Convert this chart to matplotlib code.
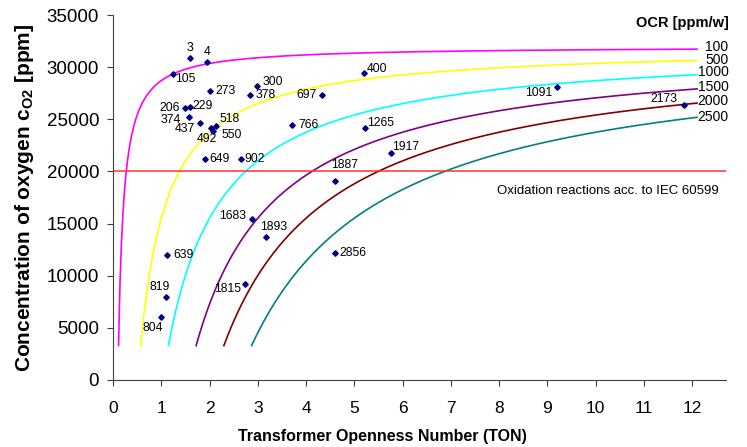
import numpy as np
from matplotlib import pyplot as plt

plt.rcParams['font.family'] = ['Liberation Sans', 'DejaVu Sans']
plt.rcParams['mathtext.fontset'] = 'custom'
plt.rcParams['mathtext.rm'] = 'Liberation Sans'

# measured transformers: label, TON, c_O2
labels = ['3', '4', '105', '273', '300', '378', '206', '229', '374', '437',
          '518', '492', '550', '649', '902', '766', '697', '400', '1265', '1917',
          '1887', '1683', '1893', '2856', '1815', '639', '819', '804', '1091', '2173']
ton = [1.60, 1.95, 1.24, 2.00, 2.99, 2.83, 1.50, 1.59, 1.57, 1.81,
       2.14, 2.04, 2.08, 1.91, 2.65, 3.71, 4.34, 5.20, 5.22, 5.75,
       4.59, 2.89, 3.18, 4.59, 2.73, 1.12, 1.10, 1.00, 9.20, 11.82]
c_o2 = [30900, 30500, 29300, 27700, 28200, 27300, 26100, 26200, 25200, 24600,
        24350, 24200, 23900, 21200, 21200, 24500, 27300, 29400, 24200, 21800,
        19100, 15400, 13700, 12200, 9200, 12000, 8000, 6000, 28100, 26400]

# label offsets (pixels) and alignment
offsets = {
    '3': (0, 4, 'center', 'bottom'), '4': (0, 4, 'center', 'bottom'),
    '105': (2, -5, 'left', 'center'), '273': (6, 0, 'left', 'center'),
    '300': (5, 4, 'left', 'center'), '378': (6, 0, 'left', 'center'),
    '206': (-6, 0, 'right', 'center'), '229': (3, 1, 'left', 'center'),
    '374': (-8, -3, 'right', 'center'), '437': (-5, -6, 'right', 'center'),
    '518': (3, 7, 'left', 'center'), '492': (6, -11, 'right', 'center'),
    '550': (8, -4, 'left', 'center'), '649': (4, 0, 'left', 'center'),
    '902': (3, 0, 'left', 'center'), '766': (6, 0, 'left', 'center'),
    '697': (-6, 0, 'right', 'center'), '400': (3, 4, 'left', 'center'),
    '1265': (2, 5, 'left', 'center'), '1917': (2, 6, 'left', 'center'),
    '1887': (-3, 16, 'left', 'center'), '1683': (-6, 3, 'right', 'center'),
    '1893': (-6, 10, 'left', 'center'), '2856': (5, 0, 'left', 'center'),
    '1815': (-4, -5, 'right', 'center'), '639': (6, 0, 'left', 'center'),
    '819': (4, 10, 'right', 'center'), '804': (2, -11, 'right', 'center'),
    '1091': (-5, -6, 'right', 'center'), '2173': (-6, 6, 'right', 'center'),
}

# OCR model curves: c = c_sat * (1 - k*OCR/TON), drawn from c_start up to TON=12.1
ocr = [100, 500, 1000, 1500, 2000, 2500]
ocr_colors = ['#FF00FF', '#FFFF00', '#00FFFF', '#800080', '#800000', '#008080']
ocr_label_y = [31900, 30700, 29500, 28100, 26800, 25200]
c_sat = 32000
k = 0.00103
c_start = 3300
ton_end = 12.1

iec_limit = 20000

fig = plt.figure(figsize=(7.47, 4.47), dpi=100)
ax = fig.add_axes([113/747, 67/447, (726-113)/747, 365/447])

for o, col in zip(ocr, ocr_colors):
    t0 = k*o/(1-c_start/c_sat)
    t = np.linspace(t0, ton_end, 400)
    ax.plot(t, c_sat*(1-k*o/t), color=col, lw=1.2)

for o, yl in zip(ocr, ocr_label_y):
    ax.text(12.75, yl, str(o), ha='right', va='center', fontsize=10, clip_on=False)
ax.text(12.75, 34200, 'OCR [ppm/w]', ha='right', va='center', fontsize=10.5,
        fontweight='bold', clip_on=False)

ax.axhline(iec_limit, color='#FF3030', lw=1.1)
ax.text(7.95, 18100, 'Oxidation reactions acc. to IEC 60599', fontsize=9.5,
        ha='left', va='center')

ax.plot(ton, c_o2, 'D', color='#000080', ms=2.8, zorder=5)
for lab, x, y in zip(labels, ton, c_o2):
    dx, dy, ha, va = offsets[lab]
    ax.annotate(lab, (x, y), xytext=(dx, dy), textcoords='offset pixels',
                ha=ha, va=va, fontsize=8.8)

ax.set_xlim(0, 12.7)
ax.set_ylim(0, 35000)
ax.set_xticks(range(0, 13))
ax.set_yticks(range(0, 35001, 5000))
for s in ['top', 'right']:
    ax.spines[s].set_visible(False)
for s in ['left', 'bottom']:
    ax.spines[s].set_color('#404040')
ax.tick_params(axis='y', direction='out', length=4, color='#404040', labelsize=13.5, pad=6)
ax.tick_params(axis='x', direction='out', length=4, color='#404040', labelsize=12.5, pad=11)

ax.set_xlabel('Transformer Openness Number (TON)', fontsize=11.5, fontweight='bold',
              va='center')
ax.xaxis.set_label_coords(0.439, -0.156)
ax.set_ylabel(r'Concentration of oxygen c$_{\mathregular{O2}}$ [ppm]', fontsize=15,
              fontweight='bold', va='center')
ax.yaxis.set_label_coords(-0.1436, 0.5)

plt.savefig('out.png', dpi=100)
